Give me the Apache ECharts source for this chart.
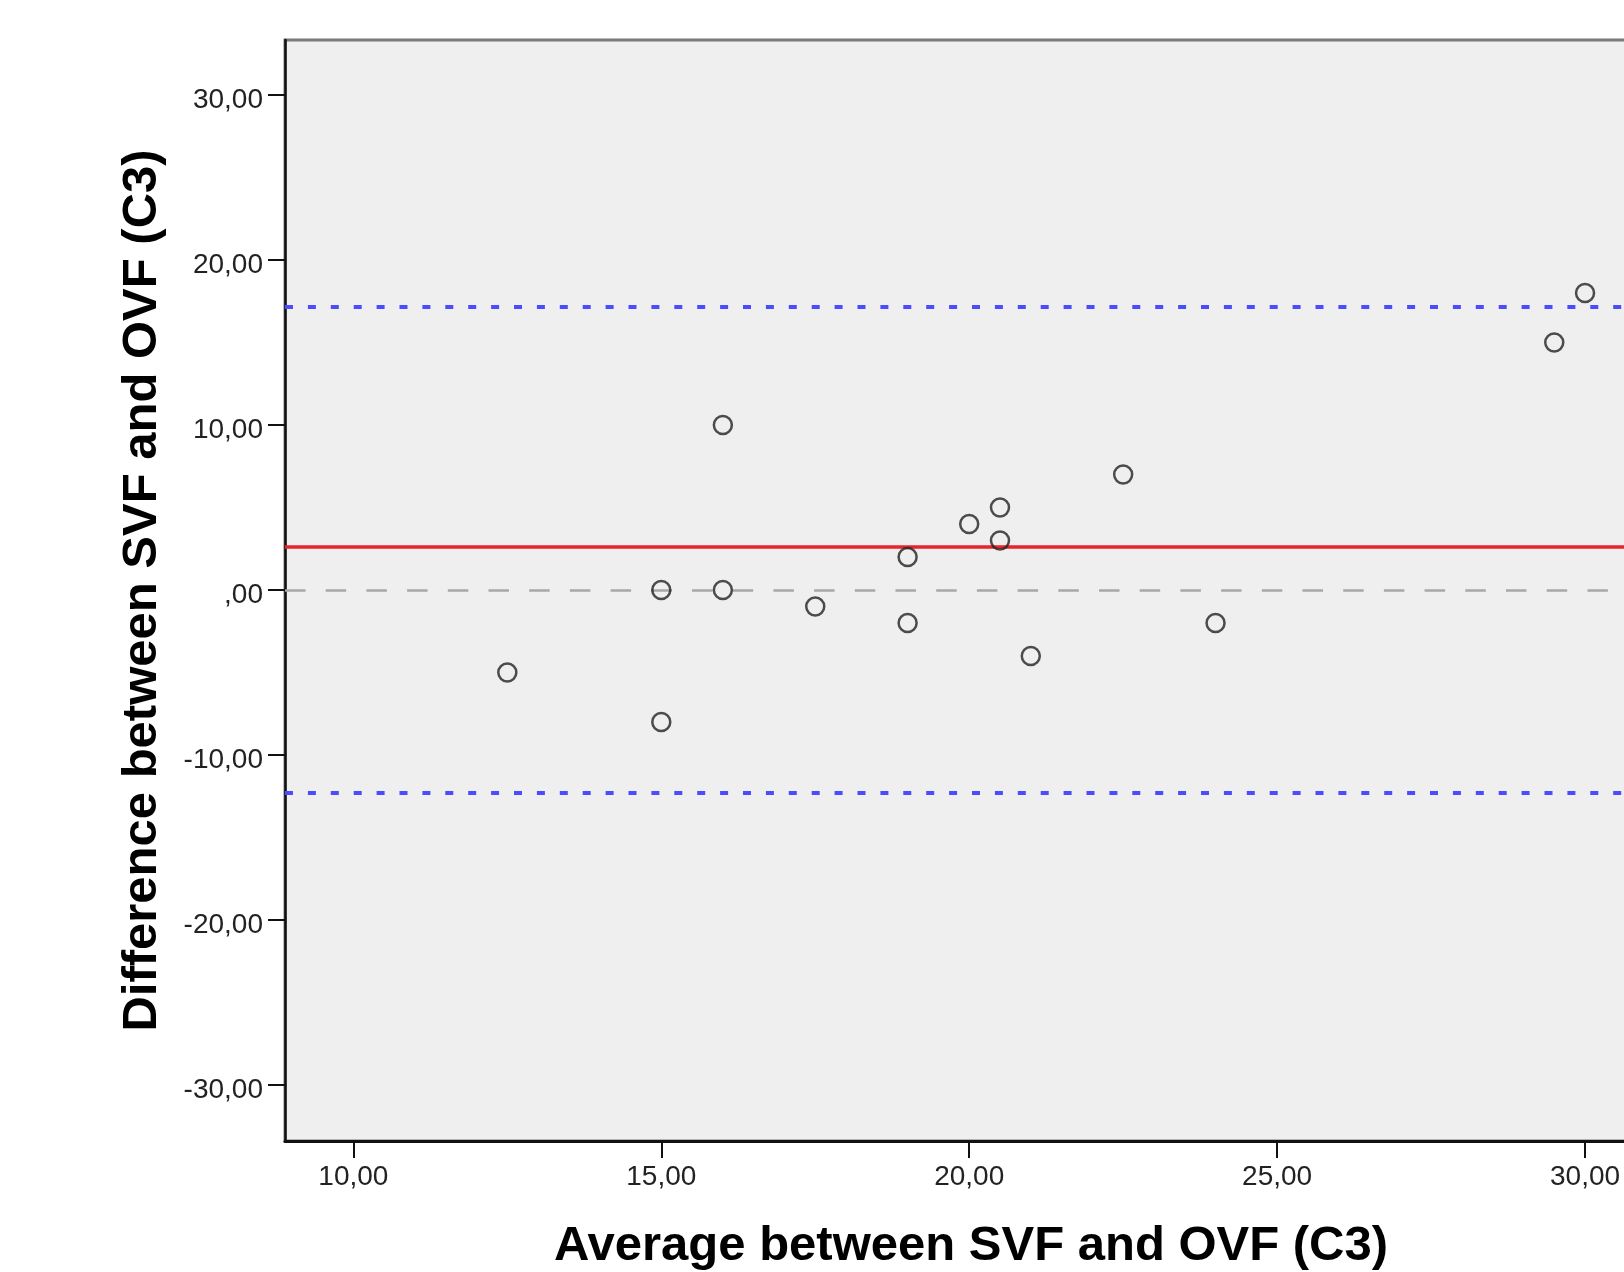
<!DOCTYPE html>
<html>
<head>
<meta charset="utf-8">
<script src="https://cdn.jsdelivr.net/npm/echarts@6/dist/echarts.min.js"></script>
<style>
html, body { margin: 0; padding: 0; background: #fff; }
#chart { width: 1624px; height: 1272px; }
</style>
</head>
<body>
<div id="chart"></div>
<script>
// Bland-Altman data
const avgValues = [12.5, 15, 15, 16, 16, 17.5, 19, 19, 20, 20.5, 20.5, 21, 22.5, 24, 29.5, 30]
const diffValues = [-5, 0, -8, 10, 0, -1, 2, -2, 4, 5, 3, -4, 7, -2, 15, 18]
const meanDiff = 2.6
const upperLimit = 17.18
const lowerLimit = -12.28
const xTicks = [10, 15, 20, 25, 30]
const xTickLabels = ['10,00', '15,00', '20,00', '25,00', '30,00']
const yTicks = [-30, -20, -10, 0, 10, 20, 30]
const yTickLabels = ['-30,00', '-20,00', '-10,00', ',00', '10,00', '20,00', '30,00']

const font = '"Liberation Sans", Arial, sans-serif'
const points = avgValues.map((x, i) => [x, diffValues[i]])

const myChart = echarts.init(document.getElementById('chart'))
myChart.setOption({
  animation: false,
  grid: {
    left: 285,
    top: 40,
    right: -6,
    bottom: 131,
    outerBoundsMode: 'none',
    show: true,
    backgroundColor: '#efefef',
    borderColor: '#7a7a7a',
    borderWidth: 3,
  },
  xAxis: {
    type: 'value',
    min: 8.89,
    max: 30.73,
    name: 'Average between SVF and OVF (C3)',
    nameLocation: 'middle',
    nameGap: 81,
    nameTextStyle: {
      fontFamily: font,
      fontSize: 49,
      fontWeight: 'bold',
      color: '#000',
      padding: [0, 0, 0, 27],
    },
    axisLine: { onZero: false, lineStyle: { color: '#111', width: 3 } },
    axisTick: { customValues: xTicks, length: 17, lineStyle: { color: '#111', width: 2 } },
    axisLabel: {
      customValues: xTicks,
      margin: 22,
      fontFamily: font,
      fontSize: 28,
      color: '#222',
      formatter: v => xTickLabels[xTicks.indexOf(v)],
    },
    splitLine: { show: false },
  },
  yAxis: {
    type: 'value',
    min: -33.39,
    max: 33.33,
    name: 'Difference between SVF and OVF (C3)',
    nameLocation: 'middle',
    nameGap: 118,
    nameTextStyle: {
      fontFamily: font,
      fontSize: 49,
      fontWeight: 'bold',
      color: '#000',
    },
    axisLine: { onZero: false, lineStyle: { color: '#111', width: 2.5 } },
    axisTick: { customValues: yTicks, length: 17, lineStyle: { color: '#111', width: 2 } },
    axisLabel: {
      customValues: yTicks,
      margin: 22,
      fontFamily: font,
      fontSize: 28,
      color: '#222',
      verticalAlign: 'top',
      lineHeight: 10,
      formatter: v => yTickLabels[yTicks.indexOf(v)],
    },
    splitLine: { show: false },
  },
  series: [
    {
      type: 'scatter',
      data: points,
      symbol: 'circle',
      symbolSize: 18,
      z: 5,
      itemStyle: { color: 'rgba(0,0,0,0)', borderColor: '#222', borderWidth: 2.5 },
      markLine: {
        silent: true,
        symbol: 'none',
        label: { show: false },
        z: 3,
        data: [
          { yAxis: 0, lineStyle: { color: '#a8a8a8', width: 2.5, type: [20.5, 20.2] } },
          { yAxis: meanDiff, lineStyle: { color: '#e8232b', width: 3.5, type: 'solid' } },
          { yAxis: upperLimit, lineStyle: { color: '#4c4cff', width: 4, type: [8, 14.9] } },
          { yAxis: lowerLimit, lineStyle: { color: '#4c4cff', width: 4, type: [8, 14.9] } },
        ],
      },
    },
  ],
})
</script>
</body>
</html>
